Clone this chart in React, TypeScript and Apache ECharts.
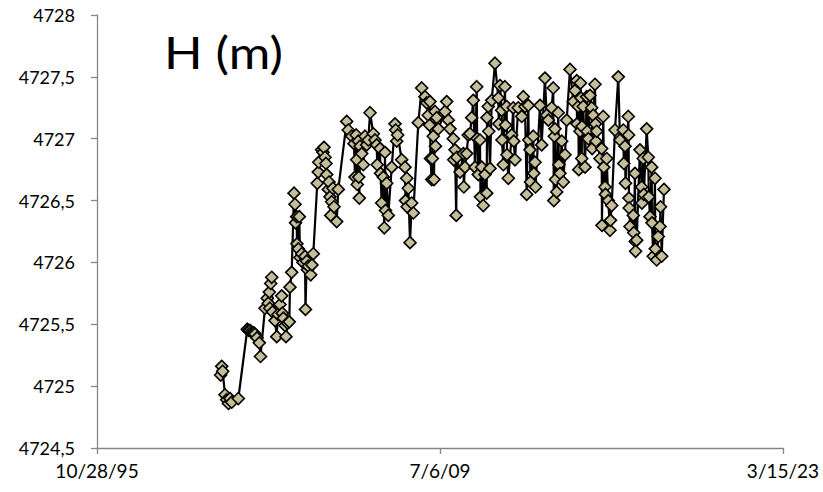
import React, { useEffect, useRef } from "react";
import * as echarts from "echarts";

// Excel serial dates (days since 1899-12-30)
const dates: number[] = [
  36803, 36818, 36832, 36866, 36891, 36917, 36939, 36964, 37060,
  37191, 37208, 37230, 37252, 37270, 37289, 37303, 37332, 37366, 37383,
  37449, 37482, 37497, 37512, 37519, 37532, 37547, 37558, 37595, 37620, 37638, 37668, 37692, 37701, 37716, 37741, 37755, 37777, 37803, 37813, 37838,
  37872, 37886, 37894, 37911, 37915, 37934, 37949, 37959, 37984, 38003, 38032, 38039, 38057, 38068, 38080, 38115, 38134, 38153,
  38211, 38226, 38233, 38275, 38294, 38309, 38324, 38338, 38348, 38372, 38382, 38396, 38407, 38421, 38440, 38455, 38494, 38517,
  38640, 38663, 38713, 38746, 38761, 38778, 38786, 38794, 38809, 38816, 38824, 38834, 38859, 38882, 38907, 38931, 38955,
  38980, 39028, 39052, 39077, 39085, 39125, 39133, 39150, 39173, 39188, 39198, 39206, 39223, 39246, 39296,
  39344, 39354, 39369, 39383, 39442, 39490, 39497, 39515, 39522, 39538, 39563, 39587, 39611,
  39684, 39733, 39781, 39806, 39829, 39847, 39854, 39861, 39879, 39888, 39902, 39912, 39927, 39934, 39952, 39975,
  40073, 40098, 40121, 40146, 40194, 40201, 40219, 40236, 40246, 40292, 40340, 40347, 40364, 40389,
  40412, 40437, 40462, 40485, 40510, 40535, 40542, 40558, 40583, 40590, 40608, 40631, 40656, 40681, 40685, 40704, 40711, 40729, 40754,
  40802, 40850, 40857, 40875, 40899, 40904, 40923, 40947, 40955, 40972, 40977, 40996, 41045, 41068, 41076, 41093,
  41141, 41191, 41214, 41239, 41264, 41287, 41294, 41312, 41319, 41360, 41367, 41385, 41392, 41458, 41482,
  41530, 41555, 41579, 41628, 41651, 41659, 41666, 41676, 41684, 41701, 41724, 41732, 41749, 41774, 41797, 41822, 41847,
  41895, 41943, 41968, 41993, 41997, 42016, 42023, 42041, 42048, 42055, 42066, 42070, 42089, 42114, 42138, 42146, 42162, 42186, 42211, 42218,
  42234, 42259, 42267, 42274, 42284, 42332, 42357, 42361, 42380, 42388, 42405, 42412, 42430, 42453, 42478, 42485, 42503,
  42551, 42599, 42624, 42672, 42679, 42697, 42704, 42745, 42749, 42754, 42758, 42770, 42818, 42825, 42842, 42847, 42851, 42867,
  42915, 42940, 42944, 42963, 42971, 43013, 43036, 43044, 43061, 43086, 43090, 43109, 43134, 43138, 43159, 43182, 43207, 43214, 43232, 43265,
];

// H (m)
const levels: number[] = [
  4725.09, 4725.16, 4725.12, 4724.93, 4724.89, 4724.86, 4724.90, 4724.87, 4724.90,
  4725.46, 4725.45, 4725.45, 4725.44, 4725.43, 4725.43, 4725.42, 4725.39, 4725.35, 4725.24,
  4725.63, 4725.71, 4725.67, 4725.76, 4725.63, 4725.83, 4725.88, 4725.60, 4725.53, 4725.40, 4725.58, 4725.66, 4725.73, 4725.59, 4725.55, 4725.49, 4725.40, 4725.51, 4725.52, 4725.80, 4725.92,
  4726.56, 4726.47, 4726.32, 4726.37, 4726.15, 4726.11, 4726.37, 4726.04, 4726.07, 4726.00, 4726.05, 4725.62, 4726.01, 4725.94, 4725.97, 4725.90, 4725.98, 4726.07,
  4726.64, 4726.73, 4726.81, 4726.91, 4726.89, 4726.93, 4726.85, 4726.80, 4726.71, 4726.59, 4726.65, 4726.53, 4726.38, 4726.49, 4726.60, 4726.45, 4726.33, 4726.59,
  4727.14, 4727.07, 4727.02, 4726.96, 4726.69, 4727.03, 4726.83, 4726.63, 4726.98, 4726.69, 4726.52, 4726.94, 4726.88, 4726.79, 4727.02, 4726.95, 4726.99,
  4727.21, 4727.04, 4726.99, 4726.95, 4726.79, 4726.92, 4726.72, 4726.48, 4726.69, 4726.28, 4726.89, 4726.42, 4726.64, 4726.38, 4726.77,
  4727.12, 4727.07, 4726.98, 4727.03, 4726.83, 4726.77, 4726.50, 4726.68, 4726.45, 4726.60, 4726.16, 4726.48, 4726.40,
  4727.13, 4727.41, 4727.34, 4727.29, 4727.19, 4727.11, 4727.30, 4726.84, 4726.67, 4726.84, 4727.02, 4726.67, 4727.22, 4726.94, 4727.17, 4727.08,
  4727.22, 4727.30, 4727.15, 4727.08, 4727.00, 4726.83, 4726.91, 4726.38, 4726.85, 4726.73, 4726.88, 4726.61, 4726.77, 4726.88,
  4727.03, 4727.04, 4727.17, 4727.31, 4726.77, 4727.42, 4727.00, 4726.71, 4726.99, 4726.53, 4726.77, 4726.46, 4726.71, 4726.56, 4727.17, 4727.26, 4727.06, 4726.76, 4727.31,
  4727.61, 4727.33, 4727.12, 4727.43, 4727.23, 4726.99, 4726.79, 4727.42, 4727.11, 4727.26, 4726.87, 4726.68, 4727.03, 4727.25, 4726.98, 4726.83,
  4727.25, 4727.18, 4727.34, 4727.26, 4726.55, 4727.27, 4726.99, 4726.91, 4726.65, 4727.02, 4726.72, 4726.81, 4726.61, 4727.27, 4726.95,
  4727.49, 4727.19, 4727.15, 4727.25, 4727.41, 4726.50, 4727.02, 4727.08, 4726.67, 4726.57, 4727.21, 4726.79, 4726.72, 4726.98, 4726.65, 4726.87, 4727.15,
  4727.56, 4727.30, 4727.39, 4727.47, 4727.12, 4727.26, 4726.75, 4727.06, 4727.45, 4727.33, 4726.84, 4727.10, 4727.26, 4726.77, 4727.34, 4727.06, 4727.00, 4727.35, 4727.25, 4726.92,
  4727.19, 4727.44, 4727.12, 4726.98, 4727.06, 4726.84, 4726.92, 4726.30, 4727.18, 4726.77, 4726.61, 4726.55, 4726.84, 4726.50, 4726.26, 4726.34, 4726.46,
  4727.07, 4727.50, 4726.99, 4727.07, 4726.80, 4726.94, 4726.64, 4727.18, 4727.03, 4726.52, 4726.44, 4726.29, 4726.38, 4726.24, 4726.72, 4726.17, 4726.09, 4726.18,
  4726.91, 4726.61, 4726.48, 4726.84, 4726.55, 4727.08, 4726.85, 4726.53, 4726.37, 4726.77, 4726.32, 4726.05, 4726.68, 4726.11, 4726.02, 4726.21, 4726.29, 4726.45, 4726.05, 4726.59,
];

const xTicks = { min: 35000, max: 45000, interval: 5000 };
const yTicks = { min: 4724.5, max: 4728, interval: 0.5 };
const titleText = "H (m)";

const FONT = "Lato";

function serialToLabel(v: number): string {
  const d = new Date(Date.UTC(1899, 11, 30) + v * 86400000);
  const yy = String(d.getUTCFullYear() % 100).padStart(2, "0");
  return `${d.getUTCMonth() + 1}/${d.getUTCDate()}/${yy}`;
}

export default function App() {
  const ref = useRef<HTMLDivElement>(null);
  useEffect(() => {
    document.body.style.margin = "0";
    if (!ref.current) return;
    const chart = echarts.init(ref.current, undefined, { renderer: "svg" });
    const data = dates.map((d, i) => [d, levels[i]]);
    chart.setOption({
      animation: false,
      backgroundColor: "#ffffff",
      grid: { left: 97, right: 40, top: 15, bottom: 44, outerBoundsMode: "none" },
      graphic: [
        {
          type: "text",
          x: 164,
          y: 30,
          scaleX: 1.15,
          style: { text: titleText, fontSize: 44, fontFamily: FONT, fill: "#000" },
        },
      ],
      xAxis: {
        type: "value",
        min: xTicks.min,
        max: xTicks.max,
        interval: xTicks.interval,
        splitLine: { show: false },
        axisLine: { lineStyle: { color: "#868686", width: 1.3 } },
        axisTick: { show: true, length: 6, lineStyle: { color: "#868686", width: 1.3 } },
        axisLabel: {
          formatter: serialToLabel,
          fontSize: 19,
          fontFamily: FONT,
          color: "#000",
          margin: 13,
          showMinLabel: true,
          showMaxLabel: true,
        },
      },
      yAxis: {
        type: "value",
        min: yTicks.min,
        max: yTicks.max,
        interval: yTicks.interval,
        splitLine: { show: false },
        axisLine: { show: true, lineStyle: { color: "#868686", width: 1.3 } },
        axisTick: { show: true, length: 6, lineStyle: { color: "#868686", width: 1.3 } },
        axisLabel: {
          formatter: (v: number) => String(v).replace(".", ","),
          fontSize: 18,
          fontFamily: FONT,
          color: "#000",
          margin: 22,
        },
      },
      series: [
        {
          type: "line",
          data,
          symbol: "diamond",
          symbolSize: 12,
          itemStyle: { color: "#C4BD97", borderColor: "#000", borderWidth: 1.6 },
          lineStyle: { color: "#000", width: 2.2 },
          emphasis: { disabled: true },
        },
      ],
    });
    return () => chart.dispose();
  }, []);
  return <div ref={ref} style={{ width: 823, height: 492 }} />;
}
